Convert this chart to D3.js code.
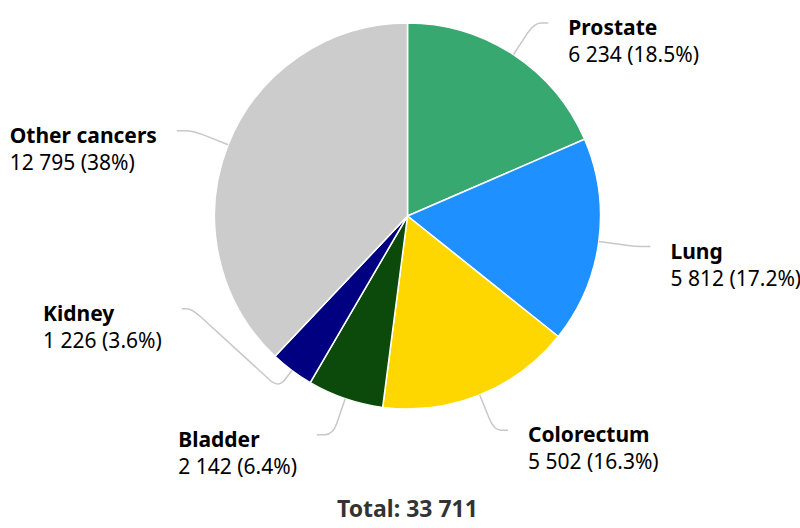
<!DOCTYPE html>
<html>
<head>
<meta charset="utf-8">
<script src="https://cdn.jsdelivr.net/npm/d3@7"></script>
<style>
  body { margin: 0; background: #fff; }
  text { font-family: "Noto Sans", "Open Sans", sans-serif; }
</style>
</head>
<body>
<script>
const categories = ['Prostate', 'Lung', 'Colorectum', 'Bladder', 'Kidney', 'Other cancers'];
const cases = [6234, 5812, 5502, 2142, 1226, 12795];
const shares = ['18.5%', '17.2%', '16.3%', '6.4%', '3.6%', '38%'];
const colors = ['#36a870', '#1e90ff', '#ffd700', '#0b4a0b', '#000080', '#cccccc'];
const totalLabel = 'Total: 33 711';

const width = 800, height = 528;
const cx = 407.5, cy = 216, radius = 193;
const fmt = n => d3.format(',')(n).replace(/,/g, ' ');

const svg = d3.select('body').append('svg')
	.attr('width', width)
	.attr('height', height);

const data = categories.map((c, i) => ({name: c, value: cases[i], share: shares[i], color: colors[i]}));

const pie = d3.pie().sort(null).value(d => d.value);
const arc = d3.arc().innerRadius(0).outerRadius(radius);
const arcs = pie(data);

const g = svg.append('g').attr('transform', `translate(${cx}, ${cy})`);

g.selectAll('path.slice')
	.data(arcs)
	.enter()
	.append('path')
	.attr('class', 'slice')
	.attr('d', arc)
	.attr('fill', d => d.data.color)
	.attr('stroke', '#fff')
	.attr('stroke-width', 1.5)
	.attr('stroke-linejoin', 'round');

// label placement: radial break point, then a short horizontal run
function polar(a, r) { return [Math.sin(a) * r, -Math.cos(a) * r]; }

const minGap = 126;
const labels = arcs.map(d => {
	const mid = (d.startAngle + d.endAngle) / 2;
	const right = mid < Math.PI;
	const brk = polar(mid, radius + 38);
	return {d, mid, right, brk, y: brk[1], moved: false};
});

// push left side labels up if they crowd each other
const left = labels.filter(l => !l.right).sort((a, b) => b.y - a.y);
for (let i = 1; i < left.length; i++) {
	if (left[i - 1].y - left[i].y < minGap) {
		left[i].y = left[i - 1].y - minGap;
		left[i].moved = true;
	}
}

const R = radius + 51;
labels.forEach(l => {
	const s = l.right ? 1 : -1;
	const run = l.right ? 14 : 16;
	if (!l.moved) {
		l.end = [l.brk[0] + s * run, l.y];
		l.pts = [polar(l.mid, radius), l.brk, l.end];
	} else {
		const dy = l.y;
		l.end = [s * Math.sqrt(R * R - dy * dy), l.y];
		l.pts = [polar(l.mid, radius), polar(l.mid, radius + 22), [l.end[0] - s * 10, l.y], l.end];
	}
});

function rounded(pts, rad) {
	let p = `M${pts[0]}`;
	for (let i = 1; i < pts.length - 1; i++) {
		const [a, b, c] = [pts[i - 1], pts[i], pts[i + 1]];
		const l1 = Math.hypot(b[0] - a[0], b[1] - a[1]);
		const l2 = Math.hypot(c[0] - b[0], c[1] - b[1]);
		const r1 = Math.min(rad, l1 / 2), r2 = Math.min(rad, l2 / 2);
		const p1 = [b[0] - (b[0] - a[0]) * r1 / l1, b[1] - (b[1] - a[1]) * r1 / l1];
		const p2 = [b[0] + (c[0] - b[0]) * r2 / l2, b[1] + (c[1] - b[1]) * r2 / l2];
		p += `L${p1}Q${b} ${p2}`;
	}
	return p + `L${pts[pts.length - 1]}`;
}

g.selectAll('path.connector')
	.data(labels)
	.enter()
	.append('path')
	.attr('class', 'connector')
	.attr('d', l => rounded(l.pts, 12))
	.attr('fill', 'none')
	.attr('stroke', '#c8c8c8')
	.attr('stroke-width', 1.5);

const lab = g.selectAll('g.label')
	.data(labels)
	.enter()
	.append('g')
	.attr('class', 'label');

lab.append('text')
	.attr('y', l => l.end[1] + 12)
	.attr('font-size', 21)
	.attr('font-weight', 'bold')
	.attr('fill', '#000')
	.text(l => l.d.data.name);

lab.append('text')
	.attr('y', l => l.end[1] + 39)
	.attr('font-size', 21)
	.attr('fill', '#000')
	.text(l => `${fmt(l.d.data.value)} (${l.d.data.share})`);

lab.each(function(l) {
	const grp = d3.select(this);
	const w = d3.max(grp.selectAll('text').nodes(), n => n.getComputedTextLength());
	const x = l.right ? l.end[0] + 20 : l.end[0] - 20 - w;
	grp.attr('transform', `translate(${x}, 0)`);
});

svg.append('text')
	.attr('x', cx)
	.attr('y', 517)
	.attr('text-anchor', 'middle')
	.attr('font-size', 23)
	.attr('font-weight', 'bold')
	.attr('fill', '#333')
	.text(totalLabel);
</script>
</body>
</html>
